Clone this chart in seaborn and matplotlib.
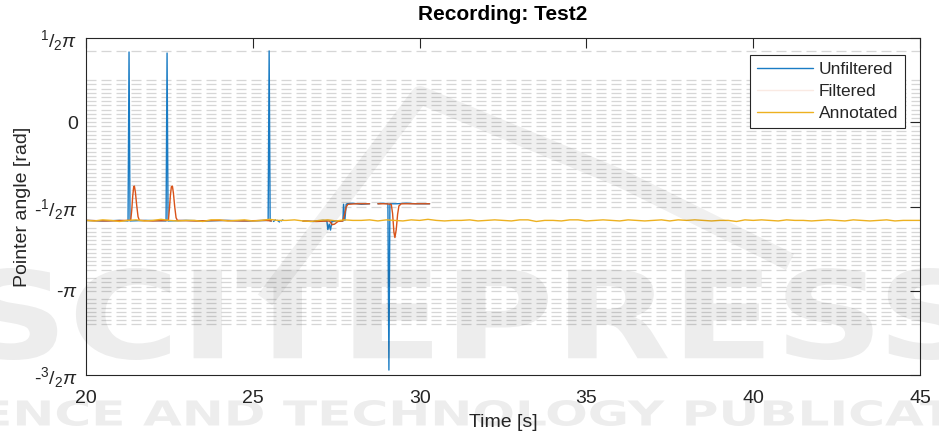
import numpy as np
import pandas as pd
import matplotlib
matplotlib.use("Agg")
import matplotlib.pyplot as plt
import seaborn as sns
from matplotlib.lines import Line2D
from matplotlib.patches import PathPatch
from matplotlib.textpath import TextPath
from matplotlib.font_manager import FontProperties
from matplotlib.transforms import Affine2D, IdentityTransform

PI = np.pi
NaN = np.nan

# Recording "Test2": pointer angle [rad] over time [s]; NaN marks dropped frames
unfiltered_t = [20.00, 20.50, 21.00, 21.26, 21.29, 21.32, 21.80, 22.40, 22.43, 22.46,
                23.00, 23.60, 24.20, 24.80, 25.46, 25.49, 25.52, 25.56, NaN,
                25.62, 25.68, NaN, 25.74, 25.80, NaN, 25.85, 25.90, NaN,
                26.50, 26.80, 27.10, 27.22, 27.25, 27.29, 27.33, 27.37, 27.50,
                27.70, 27.72, 27.76, 27.80, 27.83, 28.00, 28.25, 28.50, NaN,
                28.75, 28.90, 29.05, 29.08, 29.11, 29.30, 29.60, 29.90, 30.30]
unfiltered_v = [-1.83, -1.84, -1.83, -1.84, 1.31, -1.84, -1.83, -1.84, 1.29, -1.84,
                -1.83, -1.84, -1.83, -1.84, -1.83, 1.33, -1.84, -1.84, NaN,
                -1.85, -1.82, NaN, -1.83, -1.86, NaN, -1.84, -1.82, NaN,
                -1.84, -1.85, -1.83, -1.84, -2.00, -1.90, -2.01, -1.85, -1.84,
                -1.84, -1.53, -1.83, -1.53, -1.52, -1.51, -1.53, -1.52, NaN,
                -1.52, -1.51, -1.52, -4.62, -1.52, -1.52, -1.51, -1.52, -1.52]

filtered_t = [20.00, 20.60, 21.20, 21.34, 21.37, 21.40, 21.43, 21.45, 21.48, 21.52,
              21.56, 21.60, 22.00, 22.47, 22.50, 22.53, 22.56, 22.59, 22.62, 22.66,
              22.70, 22.74, 23.30, 24.00, 24.70, 25.40, 25.56, NaN,
              26.50, 26.90, 27.30, 27.38, 27.45, 27.55, 27.70, 27.76, 27.80, 27.85,
              28.10, 28.50, NaN,
              28.75, 29.00, 29.15, 29.19, 29.23, 29.26, 29.30, 29.34, 29.38, 29.45,
              29.80, 30.30]
filtered_v = [-1.83, -1.84, -1.83, -1.83, -1.65, -1.38, -1.20, -1.19, -1.30, -1.55,
              -1.76, -1.83, -1.84, -1.83, -1.62, -1.36, -1.20, -1.19, -1.32, -1.58,
              -1.78, -1.83, -1.84, -1.83, -1.84, -1.83, -1.84, NaN,
              -1.84, -1.85, -1.84, -1.91, -1.90, -1.85, -1.84, -1.70, -1.58, -1.53,
              -1.52, -1.52, NaN,
              -1.52, -1.52, -1.53, -1.70, -2.05, -2.15, -2.00, -1.72, -1.56, -1.52,
              -1.52, -1.52]

# annotated angle, sampled every 0.25 s from 20 s to 45 s
annotated_t = np.linspace(20.0, 45.0, 101)
annotated_v = [-1.83, -1.84, -1.82, -1.83, -1.85, -1.83, -1.82, -1.84, -1.83, -1.81,
               -1.83, -1.84, -1.83, -1.83, -1.85, -1.82, -1.82, -1.84, -1.83, -1.82,
               -1.84, -1.83, -1.81, -1.83, -1.83, -1.82, -1.84, -1.85, -1.83, -1.82,
               -1.84, -1.82, -1.83, -1.83, -1.82, -1.84, -1.82, -1.83, -1.84, -1.82,
               -1.83, -1.81, -1.83, -1.84, -1.83, -1.83, -1.82, -1.84, -1.83, -1.82,
               -1.83, -1.84, -1.82, -1.82, -1.85, -1.83, -1.83, -1.84, -1.82, -1.82,
               -1.84, -1.83, -1.82, -1.83, -1.84, -1.82, -1.83, -1.84, -1.83, -1.82,
               -1.84, -1.82, -1.83, -1.82, -1.83, -1.84, -1.83, -1.83, -1.85, -1.82,
               -1.83, -1.82, -1.83, -1.84, -1.82, -1.83, -1.83, -1.84, -1.83, -1.82,
               -1.83, -1.84, -1.82, -1.83, -1.84, -1.83, -1.82, -1.84, -1.83, -1.83,
               -1.83]

series_names = ["Unfiltered", "Filtered", "Annotated"]
series_colors = ["#1a7cc4", "#D95319", "#EDB120"]

# dial graduations of the gauge, as multiples of pi/40
dial_steps = ([17] + list(range(10, -21, -1)) + list(range(-25, -36, -1))
              + list(range(-37, -41, -1)) + list(range(-42, -49, -1)))

x_ticks = [20, 25, 30, 35, 40, 45]
y_ticks = [-1.5 * PI, -PI, -0.5 * PI, 0.0, 0.5 * PI]
y_tick_labels = [r"-$^{3}/_{2}\pi$", r"-$\pi$", r"-$^{1}/_{2}\pi$", "0", r"$^{1}/_{2}\pi$"]


def to_frame(name, t, v):
    df = pd.DataFrame({"t": np.asarray(t, float), "angle": np.asarray(v, float)})
    df["segment"] = df["angle"].isna().cumsum()
    df = df.dropna().copy()
    df["series"] = name
    df["unit"] = name + "_" + df["segment"].astype(str)
    return df


data = pd.concat([to_frame("Unfiltered", unfiltered_t, unfiltered_v),
                  to_frame("Filtered", filtered_t, filtered_v),
                  to_frame("Annotated", annotated_t, annotated_v)],
                 ignore_index=True)

sns.set_style("white")
plt.rcParams["font.family"] = ["Liberation Sans", "DejaVu Sans"]
plt.rcParams["mathtext.fontset"] = "custom"
plt.rcParams["mathtext.rm"] = "Liberation Sans"
plt.rcParams["mathtext.it"] = "Liberation Sans:italic"
plt.rcParams["mathtext.bf"] = "Liberation Sans:bold"
plt.rcParams["lines.scale_dashes"] = False

fig = plt.figure(figsize=(9.39, 4.34), dpi=100)
ax = fig.add_axes([86 / 939, 1 - 375 / 434, 834 / 939, 337 / 434])

for k in dial_steps:
    ax.axhline(k * PI / 40, color="#d6d6d6", linewidth=0.9,
               linestyle=(0, (7.2, 3.6)), zorder=0.5)

sns.lineplot(data=data, x="t", y="angle", hue="series", hue_order=series_names,
             palette=dict(zip(series_names, series_colors)), units="unit",
             estimator=None, sort=False, linewidth=1.0, legend=False, ax=ax)

ax.set_xlim(20, 45)
ax.set_ylim(-1.5 * PI, 0.5 * PI)
ax.set_xticks(x_ticks)
ax.set_yticks(y_ticks)
ax.set_yticklabels(y_tick_labels)
ax.tick_params(axis="both", direction="in", length=7, width=0.8, colors="#262626",
               labelsize=14, top=True, right=True, labelcolor="#262626")
ax.tick_params(axis="x", pad=11)
ax.tick_params(axis="y", pad=6)
for sp in ax.spines.values():
    sp.set_color("#262626")
    sp.set_linewidth(0.8)

ax.set_xlabel("Time [s]", fontsize=14, color="#262626", labelpad=5)
ax.set_ylabel("Pointer angle [rad]", fontsize=14, color="#262626", labelpad=2)
ax.set_title("Recording: Test2", fontsize=15, fontweight="bold", color="black", pad=13)

handles = [Line2D([], [], color=series_colors[0], linewidth=1.0),
           Line2D([], [], color=series_colors[1], linewidth=1.0, alpha=0.12),
           Line2D([], [], color=series_colors[2], linewidth=1.0)]
leg = ax.legend(handles, series_names, loc="upper right",
                bbox_to_anchor=(1 - 15 / 834, 1 - 17 / 337), borderaxespad=0,
                fontsize=12.5, handlelength=3.2, handletextpad=0.35,
                labelspacing=0.4, borderpad=0.4, fancybox=False, framealpha=1)
leg.get_frame().set_edgecolor("#262626")
leg.get_frame().set_linewidth(0.8)

# publisher watermark across the lower part of the figure
H = 434


def watermark(text, x0, x1, ytop, ybot, alpha):
    tp = TextPath((0, 0), text, size=100,
                  prop=FontProperties(family="DejaVu Sans", weight="bold"))
    ext = tp.get_extents()
    sx = (x1 - x0) / ext.width
    sy = (ybot - ytop) / ext.height
    tr = Affine2D().translate(-ext.x0, -ext.y0).scale(sx, sy).translate(x0, H - ybot)
    patch = PathPatch(tr.transform_path(tp), facecolor="black", edgecolor="none",
                      alpha=alpha, transform=IdentityTransform(), zorder=10)
    fig.add_artist(patch)


watermark("SCITEPRESS", -30, 975, 268, 360, 0.07)
watermark("SCIENCE AND TECHNOLOGY PUBLICATIONS", -110, 1090, 400, 426, 0.07)

logo = Line2D([265, 420, 620, 790], [H - 300, H - 95, H - 178, H - 262],
              color="black", alpha=0.06, linewidth=13, solid_capstyle="butt",
              solid_joinstyle="round", transform=IdentityTransform(), zorder=10)
fig.add_artist(logo)

fig.savefig("out.png", dpi=100)
